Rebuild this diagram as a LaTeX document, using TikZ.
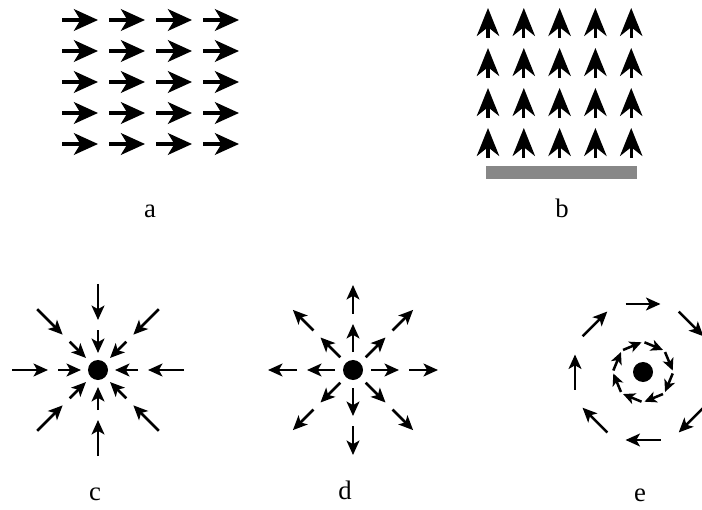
\documentclass[tikz,border=0pt]{standalone}
\usepackage{fontspec}
\setmainfont{Liberation Serif}
\usepackage{tikz}
\usetikzlibrary{arrows.meta, positioning, calc}
\definecolor{bargray}{RGB}{135,135,135}

\begin{document}
\begin{tikzpicture}[x=0.025cm, y=-0.025cm, >=Stealth]
  \tikzstyle{bigarrow} = [line width=2.4pt, -{Stealth[length=6mm, width=5.4mm, inset=1.6mm]}]
  \tikzstyle{uparrow} = [line width=2.2pt, -{Stealth[length=7mm, width=5.6mm, inset=2.2mm]}]
  \tikzstyle{fieldarrow} = [line width=1.8pt, -{Stealth[length=3.6mm, width=3.2mm, inset=0.9mm]}]
  \tikzstyle{ringarrow} = [line width=1.8pt, -{Stealth[length=3mm, width=2.8mm, inset=0.8mm]}]
  \tikzstyle{charge} = [circle, fill=black, inner sep=0pt, minimum size=0.5cm]
  \tikzstyle{caption} = [anchor=base, font=\fontsize{19}{22}\selectfont]

  \useasboundingbox (0,0) rectangle (702,510);
  \clip (0,0) rectangle (702,510);

  % a: uniform field
  \foreach \row in {0,...,4}
    \foreach \col in {0,...,3}
      \draw[bigarrow] ({62+47*\col},{20+31*\row}) -- ++(36,0);
  \node[caption] (capa) at (150,218) {a};

  % b: field above a plate
  \foreach \row in {0,...,3}
    \foreach \col in {0,...,4}
      \draw[uparrow] ({488+35.8*\col},{38+40*\row}) -- ++(0,-30);
  \fill[bargray] (486,166) rectangle (637,179);
  \node[caption] (capb) at (562,218) {b};

  % c: sink
  \node[charge] (cdot) at (98,370) {};
  \foreach \a in {0,45,...,315} {
    \draw[fieldarrow] ($(cdot.center)+(\a:86)$) -- ($(cdot.center)+(\a:50)$);
    \draw[fieldarrow] ($(cdot.center)+(\a:40)$) -- ($(cdot.center)+(\a:17)$);
  }
  \node[caption] (capc) at (95,500) {c};

  % d: source
  \node[charge] (ddot) at (353,370) {};
  \foreach \a in {0,45,...,315} {
    \draw[fieldarrow] ($(ddot.center)+(\a:18)$) -- ($(ddot.center)+(\a:46)$);
    \draw[fieldarrow] ($(ddot.center)+(\a:56)$) -- ($(ddot.center)+(\a:85)$);
  }
  \node[caption] (capd) at (345,499) {d};

  % e: vortex
  \node[charge] (edot) at (643,372) {};
  \foreach \a in {0,45,...,315} {
    \draw[fieldarrow] ($(edot.center)+(\a:68)+(\a-90:17.5)$) -- ($(edot.center)+(\a:68)+(\a+90:17.5)$);
    \draw[ringarrow] ($(edot.center)+(\a+22.5:28)+(\a-67.5:10)$) -- ($(edot.center)+(\a+22.5:28)+(\a+112.5:10)$);
  }
  \node[caption] (cape) at (640,501) {e};
\end{tikzpicture}
\end{document}
